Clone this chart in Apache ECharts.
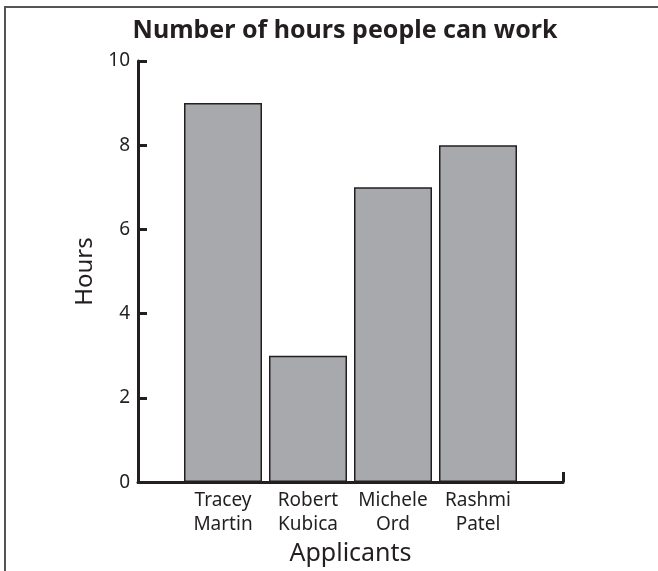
<!DOCTYPE html>
<html>
<head>
<meta charset="utf-8">
<script src="https://cdn.jsdelivr.net/npm/echarts@6/dist/echarts.min.js"></script>
<style>html,body{margin:0;padding:0;background:#fff}#c{width:658px;height:571px}</style>
</head>
<body>
<div id="c"></div>
<script>
const categories = ['', 'Tracey\nMartin', 'Robert\nKubica', 'Michele\nOrd', 'Rashmi\nPatel', ''];
const hours = [null, 9, 3, 7, 8, null];
const yTicks = [0, 2, 4, 6, 8, 10];
const titleText = 'Number of hours people can work';
const xName = 'Applicants';
const yName = 'Hours';

const ink = '#231f20';
const font = 'Noto Sans';
const chart = echarts.init(document.getElementById('c'), null, {renderer: 'canvas'});
chart.setOption({
  animation: false,
  backgroundColor: '#fff',
  title: {
    text: titleText, left: 340, top: 13, textAlign: 'center',
    textStyle: {fontFamily: font, fontWeight: 'bold', fontSize: 25, color: ink}
  },
  graphic: [
    {type: 'line', shape: {x1: 4, y1: 7, x2: 658, y2: 7}, style: {stroke: '#555', lineWidth: 2}},
    {type: 'line', shape: {x1: 5, y1: 7, x2: 5, y2: 571}, style: {stroke: '#555', lineWidth: 2}}
  ],
  grid: {left: 138, right: 95, top: 61, bottom: 86},
  xAxis: {
    type: 'category', data: categories, boundaryGap: false,
    name: xName, nameLocation: 'middle', nameGap: 53,
    nameTextStyle: {fontFamily: font, fontSize: 25, color: ink},
    axisLine: {lineStyle: {color: ink, width: 3}},
    axisTick: {show: true, inside: true, length: 10, interval: (i) => i === 5, lineStyle: {color: ink, width: 3}},
    axisLabel: {fontFamily: font, fontSize: 19, color: ink, lineHeight: 24, margin: 6, interval: 0}
  },
  yAxis: {
    type: 'value', min: yTicks[0], max: yTicks[yTicks.length - 1], interval: 2,
    name: yName, nameLocation: 'middle', nameGap: 38, nameRotate: 90,
    nameTextStyle: {fontFamily: font, fontSize: 24, color: ink},
    axisLine: {show: true, lineStyle: {color: ink, width: 3}},
    axisTick: {show: true, inside: true, length: 9, lineStyle: {color: ink, width: 3}},
    splitLine: {show: false},
    axisLabel: {fontFamily: font, fontSize: 19, color: ink, margin: 8}
  },
  series: [{
    type: 'bar', data: hours, barWidth: 78,
    itemStyle: {color: '#a7a9ac', borderColor: ink, borderWidth: 1.5}
  }]
});
</script>
</body>
</html>
